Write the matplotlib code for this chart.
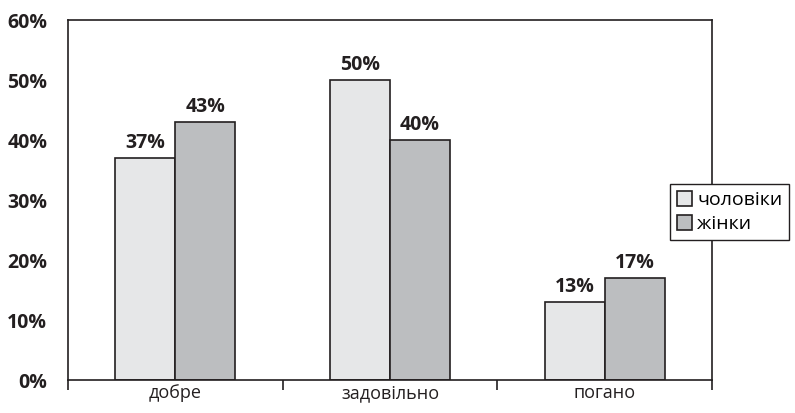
import matplotlib
matplotlib.use("Agg")
import matplotlib.pyplot as plt
import numpy as np

plt.rcParams['font.family'] = ['Open Sans', 'DejaVu Sans']

categories = ['добре', 'задовільно', 'погано']
series = ['чоловіки', 'жінки']
men = [37, 50, 13]
women = [43, 40, 17]
yticks = [0, 10, 20, 30, 40, 50, 60]

c_light = '#e6e7e8'
c_dark = '#bcbec0'
edge = '#231f20'

fig = plt.figure(figsize=(7.95, 4.13), dpi=100)
ax = fig.add_axes([68/795, 1-380/413, (712-68)/795, (380-20)/413])

x = np.arange(len(categories))
w = 0.28
b1 = ax.bar(x - w/2, men, w, color=c_light, edgecolor=edge, linewidth=1.2, label=series[0])
b2 = ax.bar(x + w/2, women, w, color=c_dark, edgecolor=edge, linewidth=1.2, label=series[1])
for bars, vals in ((b1, men), (b2, women)):
    for r, v in zip(bars, vals):
        ax.text(r.get_x() + r.get_width()/2, v + 0.9, f'{v}%', ha='center', va='bottom',
                fontsize=14, fontweight='bold', color=edge)

ax.set_xlim(-0.5, 2.5)
ax.set_ylim(0, 60)
ax.set_yticks(yticks)
ax.set_yticklabels([f'{t}%' for t in yticks], fontsize=14, fontweight='bold', color=edge)
ax.tick_params(axis='y', length=0, pad=15)
ax.set_xticks(x)
ax.set_xticklabels(categories, fontsize=13, color=edge)
ax.tick_params(axis='x', length=0, pad=3)
ax.set_xticks([-0.5, 0.5, 1.5, 2.5], minor=True)
ax.tick_params(axis='x', which='minor', length=7, width=1.2, color=edge, direction='out')
for s in ax.spines.values():
    s.set_color(edge)
    s.set_linewidth(1.2)

leg = fig.legend(handles=[b1, b2], labels=series, loc='upper left',
                 bbox_to_anchor=(670/795, 1-184/413), fontsize=14,
                 frameon=True, fancybox=False, edgecolor=edge, framealpha=1,
                 handlelength=0.8, handleheight=0.8, handletextpad=0.25,
                 borderpad=0.35, labelspacing=0.3, borderaxespad=0)
leg.get_frame().set_linewidth(1.0)

fig.savefig('out.png', dpi=100)
